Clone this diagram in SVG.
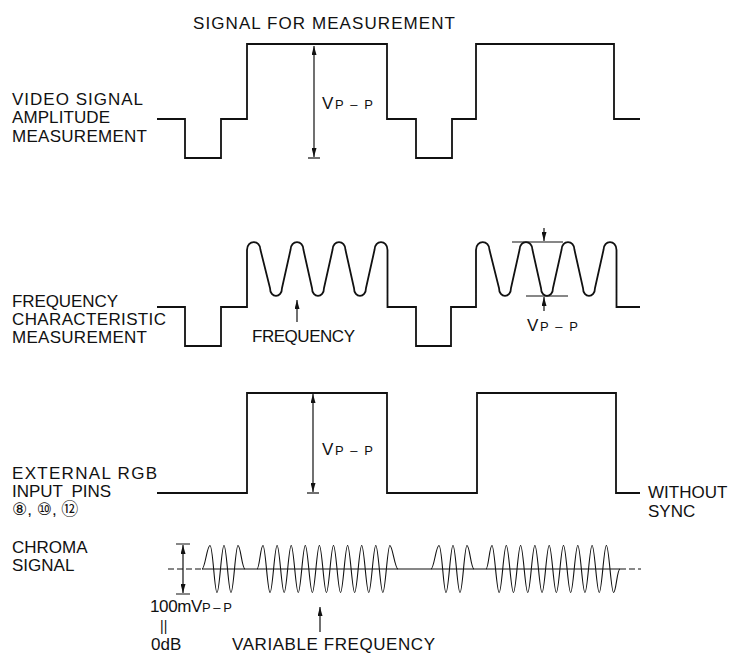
<svg xmlns="http://www.w3.org/2000/svg" width="733" height="655" viewBox="0 0 733 655">
<defs>
<style>
text{font-family:"Liberation Sans","DejaVu Sans","Noto Sans CJK JP",Arial,sans-serif;fill:#111;font-size:17px}
.sig{fill:none;stroke:#111;stroke-width:1.8;stroke-linejoin:miter}
.dim{fill:none;stroke:#111;stroke-width:1.2}
.thin{fill:none;stroke:#111;stroke-width:1.1}
.dash{fill:none;stroke:#111;stroke-width:1.1;stroke-dasharray:6 3}
.sm{font-size:13px}
</style>
<marker id="ah" viewBox="0 0 9 5" refX="9" refY="2.5" markerWidth="9" markerHeight="5" markerUnits="userSpaceOnUse" orient="auto-start-reverse">
<path d="M0,0 L9,2.5 L0,5 z" fill="#111"/>
</marker>
</defs>
<rect width="733" height="655" fill="#fff"/>

<text id="title" x="193" y="29" textLength="262" lengthAdjust="spacing">SIGNAL FOR MEASUREMENT</text>

<g id="row-video">
<text x="12" y="105" textLength="131" lengthAdjust="spacing">VIDEO SIGNAL</text>
<text x="12" y="123" textLength="98" lengthAdjust="spacing">AMPLITUDE</text>
<text x="12" y="142" textLength="135" lengthAdjust="spacing">MEASUREMENT</text>
<path class="sig" d="M157,119 H185 V158 H221 V119 H247 V44 H387 V119 H416 V158 H452 V119 H476 V44 H614 V119 H640"/>
<text x="322" y="109" textLength="51" lengthAdjust="spacing">V<tspan class="sm">P – P</tspan></text>
</g>

<g id="row-frequency">
<text x="12" y="307" textLength="106" lengthAdjust="spacing">FREQUENCY</text>
<text x="12" y="325" textLength="154" lengthAdjust="spacing">CHARACTERISTIC</text>
<text x="12" y="343" textLength="135" lengthAdjust="spacing">MEASUREMENT</text>
<path class="sig" d="M157,307 H185 V346 H221 V307 H247 V250 C247,239.5 260.5,239.5 260.5,250 L270,288 C270,298.5 282,298.5 282,288 L290.5,250 C290.5,239.5 303.5,239.5 303.5,250 L312,288 C312,298.5 324,298.5 324,288 L332.5,250 C332.5,239.5 345.5,239.5 345.5,250 L354,288 C354,298.5 366,298.5 366,288 L374.5,250 C374.5,239.5 387.5,239.5 387.5,250 V307 H416 V346 H451 V307 H476 V250 C476,239.5 489.5,239.5 489.5,250 L499,288 C499,298.5 511,298.5 511,288 L519.5,250 C519.5,239.5 532.5,239.5 532.5,250 L541,288 C541,298.5 553,298.5 553,288 L561.5,250 C561.5,239.5 574.5,239.5 574.5,250 L583,288 C583,298.5 595,298.5 595,288 L603.5,250 C603.5,239.5 616.5,239.5 616.5,250 V307 H640"/>
<text x="252" y="342" textLength="103" lengthAdjust="spacing">FREQUENCY</text>
<text x="527" y="331" textLength="51" lengthAdjust="spacing">V<tspan class="sm">P – P</tspan></text>
</g>

<g id="row-rgb">
<text x="12" y="479" textLength="145" lengthAdjust="spacing">EXTERNAL RGB</text>
<text x="12" y="497" style="word-spacing:4px">INPUT PINS</text>
<text x="12" y="515">⑧, ⑩, ⑫</text>
<path class="sig" d="M157,493 H247 V393 H387 V493 H477 V393 H616 V493 H640"/>
<text x="322" y="455" textLength="51" lengthAdjust="spacing">V<tspan class="sm">P – P</tspan></text>
<text x="648" y="498">WITHOUT</text>
<text x="648" y="517">SYNC</text>
</g>

<g id="row-chroma">
<text x="12" y="553">CHROMA</text>
<text x="12" y="571">SIGNAL</text>
<path class="dash" d="M168,569 H202 M620,569 H641"/>
<path class="thin" d="M202,569 H620"/>
<g id="bursts" class="thin">
<path d="M202,569 C205,569 207,545.5 210,545.5 S214.4,592.5 217,592.5 S221.4,545.5 224,545.5 S228.4,592.5 231,592.5 S235.4,545.5 238,545.5 S242,569 245,569"/>
<path d="M257,569 C259.5,569 260.5,545.5 263,545.5 S267.5,592.5 270.05,592.5 S274.55,545.5 277.1,545.5 S281.6,592.5 284.15,592.5 S288.65,545.5 291.2,545.5 S295.7,592.5 298.25,592.5 S302.75,545.5 305.3,545.5 S309.8,592.5 312.35,592.5 S316.85,545.5 319.4,545.5 S323.9,592.5 326.45,592.5 S330.95,545.5 333.5,545.5 S338,592.5 340.55,592.5 S345.05,545.5 347.6,545.5 S352.1,592.5 354.65,592.5 S359.15,545.5 361.7,545.5 S366.2,592.5 368.75,592.5 S373.25,545.5 375.8,545.5 S380.3,592.5 382.85,592.5 S387.35,545.5 389.9,545.5 S395,569 398,569"/>
<path transform="translate(229,0)" d="M202,569 C205,569 207,545.5 210,545.5 S214.4,592.5 217,592.5 S221.4,545.5 224,545.5 S228.4,592.5 231,592.5 S235.4,545.5 238,545.5 S242,569 245,569"/>
<path d="M486,569 C488.5,569 489.5,545.5 492,545.5 S496.55,592.5 499.15,592.5 S503.7,545.5 506.3,545.5 S510.85,592.5 513.45,592.5 S518,545.5 520.6,545.5 S525.15,592.5 527.75,592.5 S532.3,545.5 534.9,545.5 S539.45,592.5 542.05,592.5 S546.6,545.5 549.2,545.5 S553.75,592.5 556.35,592.5 S560.9,545.5 563.5,545.5 S568.05,592.5 570.65,592.5 S575.2,545.5 577.8,545.5 S582.35,592.5 584.95,592.5 S589.5,545.5 592.1,545.5 S596.65,592.5 599.25,592.5 S603.8,545.5 606.4,545.5 S610.95,592.5 613.55,592.5 S617,569 620,569"/>
</g>
<text x="150" y="612" textLength="82" lengthAdjust="spacing">100mV<tspan class="sm">P – P</tspan></text>
<text x="160" y="631" style="font-size:14px">||</text>
<text x="151" y="650">0dB</text>
<text x="232" y="650" textLength="203" lengthAdjust="spacing">VARIABLE FREQUENCY</text>
</g>

<g id="connectors">
<path class="dim" d="M314,46 V157" marker-start="url(#ah)" marker-end="url(#ah)"/>
<path class="dim" d="M308,158 H320"/>
<path class="dim" d="M297,322 V300" marker-end="url(#ah)"/>
<path class="dim" d="M512,242 H563 M526,296 H568"/>
<path class="dim" d="M544,228 V241" marker-end="url(#ah)"/>
<path class="dim" d="M544,311 V297" marker-end="url(#ah)"/>
<path class="dim" d="M313,394 V492" marker-start="url(#ah)" marker-end="url(#ah)"/>
<path class="dim" d="M307,493 H319"/>
<path class="dim" d="M183,545 V593" marker-start="url(#ah)" marker-end="url(#ah)"/>
<path class="dim" d="M176,544 H190 M176,594 H190"/>
<path class="dim" d="M320,632 V607" marker-end="url(#ah)"/>
</g>
</svg>
